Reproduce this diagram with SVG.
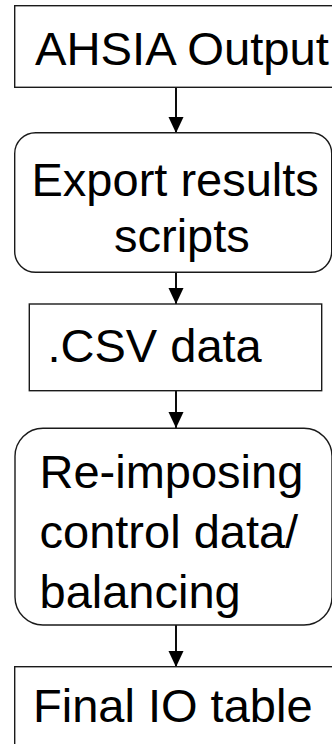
<svg xmlns="http://www.w3.org/2000/svg" width="332" height="744" viewBox="0 0 332 744">
  <style>
    .box { fill: #ffffff; stroke: #1a1a1a; stroke-width: 1.4; }
    .label { font-family: "Liberation Sans", Arial, sans-serif; font-size: 47px; fill: #000000; }
    .link { stroke: #000000; stroke-width: 1.9; fill: none; }
  </style>
  <defs>
    <marker id="arrow" viewBox="0 0 15 16" refX="16" refY="8" markerUnits="userSpaceOnUse" markerWidth="15" markerHeight="16" orient="auto">
      <path d="M0,0.5 L16,8 L0,15.5 Z" fill="#000000"/>
    </marker>
  </defs>
  <rect width="332" height="744" fill="#ffffff"/>

  <g id="connectors">
    <line class="link" x1="176" y1="87" x2="176" y2="133" marker-end="url(#arrow)"/>
    <line class="link" x1="176" y1="272" x2="176" y2="304" marker-end="url(#arrow)"/>
    <line class="link" x1="176" y1="391" x2="176" y2="428" marker-end="url(#arrow)"/>
    <line class="link" x1="176" y1="625" x2="176" y2="667" marker-end="url(#arrow)"/>
  </g>

  <g id="ahsia-output">
    <rect class="box" x="14.7" y="5.7" width="330" height="81.6"/>
    <text class="label" x="35" y="65" textLength="294" lengthAdjust="spacingAndGlyphs">AHSIA Output</text>
  </g>

  <g id="export-results">
    <rect class="box" x="14.7" y="132.7" width="317" height="139.6" rx="21" ry="21"/>
    <text class="label" x="31.5" y="196">Export results</text>
    <text class="label" x="114" y="252">scripts</text>
  </g>

  <g id="csv-data">
    <rect class="box" x="29.3" y="304" width="292.4" height="86.7"/>
    <text class="label" x="47.5" y="362">.CSV data</text>
  </g>

  <g id="reimposing">
    <rect class="box" x="15" y="428.3" width="317" height="196.7" rx="28" ry="28"/>
    <text class="label" x="39.5" y="488">Re-imposing</text>
    <text class="label" x="39.5" y="548">control data/</text>
    <text class="label" x="39.5" y="608">balancing</text>
  </g>

  <g id="final-io-table">
    <rect class="box" x="14.7" y="666.7" width="330" height="90"/>
    <text class="label" x="33" y="722">Final IO table</text>
  </g>
</svg>
